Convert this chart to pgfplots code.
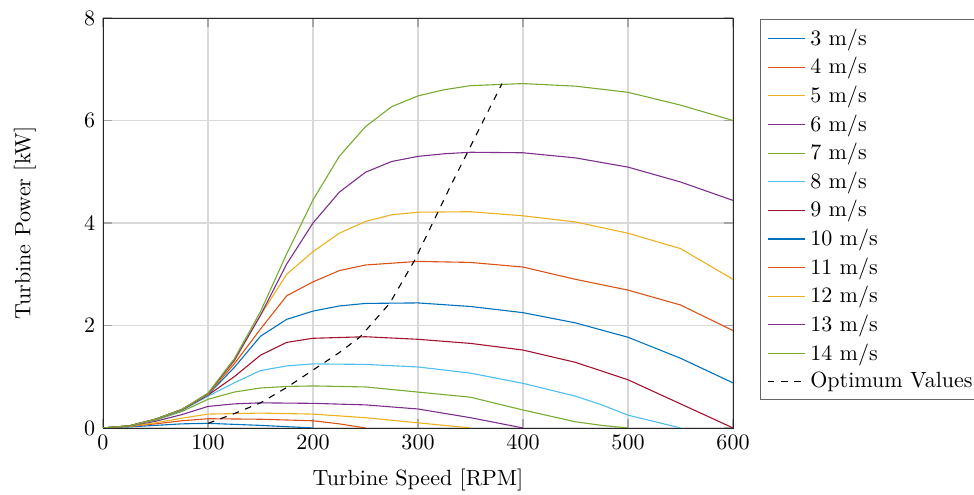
\documentclass[border=0pt]{standalone}
\usepackage{pgfplots}
\pgfplotsset{compat=1.18}
\definecolor{c1}{HTML}{0072BD}
\definecolor{c2}{HTML}{D95319}
\definecolor{c3}{HTML}{EDB120}
\definecolor{c4}{HTML}{7E2F8E}
\definecolor{c5}{HTML}{77AC30}
\definecolor{c6}{HTML}{4DBEEE}
\definecolor{c7}{HTML}{A2142F}
\begin{document}
\begin{tikzpicture}
\begin{axis}[
  scale only axis,
  width=286pt, height=186.1pt,
  xmin=0, xmax=600, ymin=0, ymax=8,
  xtick={0,100,...,600}, ytick={0,2,4,6,8},
  grid=major,
  grid style={gray!30, line width=0.5pt},
  tick align=inside,
  major tick style={gray!70, line width=0.5pt},
  axis line style={black!85, line width=0.4pt},
  xlabel={Turbine Speed [RPM]},
  ylabel={Turbine Power [kW]},
  xlabel style={at={(axis description cs:0.5,-0.127)}, anchor=center},
  ylabel style={at={(axis description cs:-0.124,0.5)}, anchor=center},
  legend style={at={(1.0429,0.997)}, anchor=north west, draw=black!60, line width=0.5pt, font=\normalsize},
  legend cell align=left,
  every axis plot/.append style={line width=0.5pt},
]
\coordinate (SW) at (rel axis cs:0,0);
\coordinate (NE) at (rel axis cs:1,1);
\addplot[c1] coordinates {(0,0)(25,0.02)(50,0.05)(75,0.08)(100,0.09)(150,0.05)(200,0)};
\addlegendentry{3 m/s}
\addplot[c2] coordinates {(0,0)(25,0.03)(50,0.08)(75,0.14)(100,0.18)(150,0.17)(200,0.14)(225,0.08)(250,0)};
\addlegendentry{4 m/s}
\addplot[c3] coordinates {(0,0)(25,0.03)(50,0.1)(75,0.19)(100,0.27)(150,0.29)(200,0.27)(250,0.2)(300,0.1)(350,0)};
\addlegendentry{5 m/s}
\addplot[c4] coordinates {(0,0)(25,0.04)(50,0.13)(75,0.26)(100,0.42)(125,0.47)(150,0.49)(200,0.48)(250,0.45)(300,0.37)(350,0.2)(400,0)};
\addlegendentry{6 m/s}
\addplot[c5] coordinates {(0,0)(25,0.04)(50,0.15)(75,0.32)(100,0.56)(125,0.7)(150,0.78)(175,0.81)(200,0.82)(250,0.8)(300,0.7)(350,0.6)(400,0.35)(450,0.12)(475,0.05)(500,0)};
\addlegendentry{7 m/s}
\addplot[c6] coordinates {(0,0)(25,0.04)(50,0.16)(75,0.34)(100,0.62)(125,0.88)(150,1.12)(175,1.21)(200,1.25)(250,1.24)(300,1.19)(350,1.07)(400,0.87)(450,0.62)(475,0.45)(500,0.25)(550,0)};
\addlegendentry{8 m/s}
\addplot[c7] coordinates {(0,0)(25,0.04)(50,0.17)(75,0.35)(100,0.64)(125,1.0)(150,1.42)(175,1.67)(200,1.75)(250,1.78)(300,1.73)(350,1.65)(400,1.52)(450,1.28)(500,0.94)(550,0.47)(600,0)};
\addlegendentry{9 m/s}
\addplot[c1] coordinates {(0,0)(25,0.04)(50,0.17)(75,0.36)(100,0.65)(125,1.18)(150,1.79)(175,2.12)(200,2.28)(225,2.38)(250,2.43)(300,2.44)(350,2.37)(400,2.25)(450,2.05)(500,1.77)(550,1.36)(600,0.88)};
\addlegendentry{10 m/s}
\addplot[c2] coordinates {(0,0)(25,0.04)(50,0.17)(75,0.36)(100,0.66)(125,1.25)(150,1.93)(175,2.58)(200,2.85)(225,3.07)(250,3.18)(300,3.25)(350,3.23)(400,3.14)(450,2.9)(500,2.69)(550,2.4)(600,1.9)};
\addlegendentry{11 m/s}
\addplot[c3] coordinates {(0,0)(25,0.04)(50,0.17)(75,0.36)(100,0.66)(125,1.3)(150,2.2)(175,3.0)(200,3.44)(225,3.8)(250,4.03)(275,4.16)(300,4.21)(350,4.22)(400,4.14)(450,4.02)(500,3.8)(550,3.5)(600,2.9)};
\addlegendentry{12 m/s}
\addplot[c4] coordinates {(0,0)(25,0.04)(50,0.17)(75,0.36)(100,0.67)(125,1.32)(150,2.2)(175,3.2)(200,4.0)(225,4.6)(250,4.99)(275,5.2)(300,5.3)(325,5.35)(350,5.38)(400,5.37)(450,5.27)(500,5.09)(550,4.8)(600,4.44)};
\addlegendentry{13 m/s}
\addplot[c5] coordinates {(0,0)(25,0.04)(50,0.17)(75,0.36)(100,0.68)(125,1.35)(150,2.27)(175,3.4)(200,4.45)(225,5.3)(250,5.88)(275,6.27)(300,6.48)(325,6.6)(350,6.68)(400,6.72)(450,6.67)(500,6.55)(550,6.3)(600,6.0)};
\addlegendentry{14 m/s}
\addplot[black, dashed] coordinates {(100,0.09)(125,0.28)(150,0.49)(175,0.79)(200,1.13)(225,1.47)(245,1.78)(273,2.43)(297,3.28)(330,4.68)(380,6.72)};
\addlegendentry{Optimum Values}
\end{axis}
\pgfresetboundingbox
\path ([shift={(-46.76pt,-30.4pt)}]SW) rectangle ([shift={(109.4pt,8.17pt)}]NE);
\end{tikzpicture}
\end{document}
